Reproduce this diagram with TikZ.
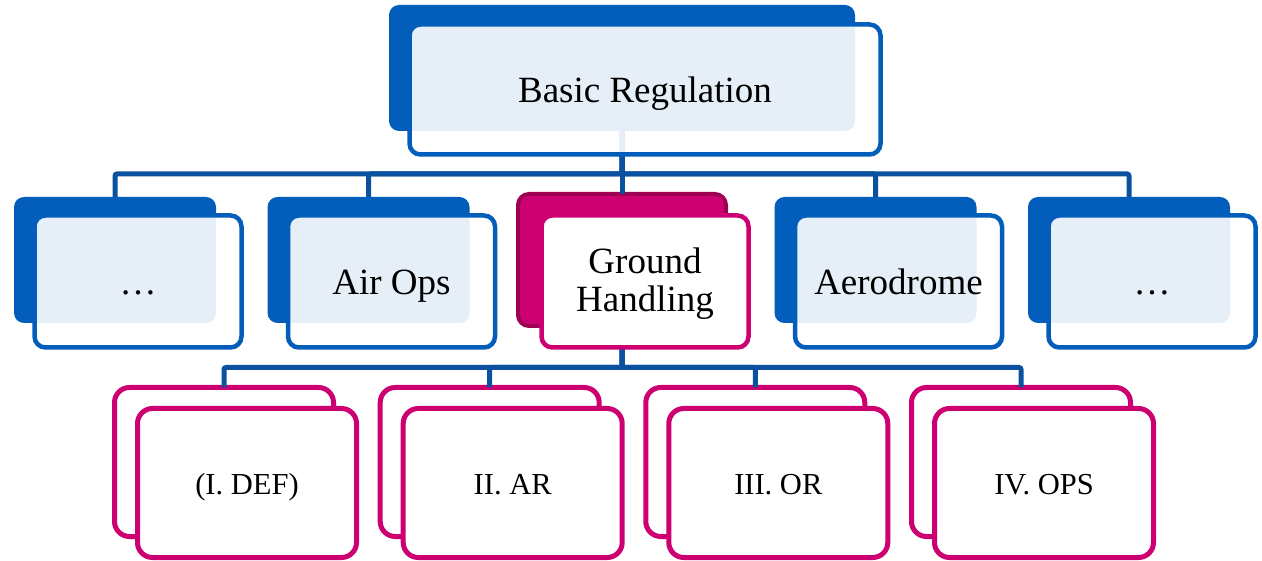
\documentclass[tikz,border=0pt]{standalone}
\usepackage{fontspec}
\setmainfont{Liberation Serif}
\definecolor{boxblue}{HTML}{035EBB}
\definecolor{linkblue}{HTML}{0A519F}
\definecolor{pinkc}{HTML}{CC0070}
\definecolor{pinkdark}{HTML}{9E0052}
\begin{document}
\begin{tikzpicture}[x=1pt,y=-1pt,
  every node/.style={inner sep=0pt, outer sep=0pt},
  link/.style={draw=linkblue, line width=5pt, rounded corners=2pt},
  topback/.style={rectangle, rounded corners=10pt, fill=boxblue, minimum width=466pt, minimum height=126pt},
  topfront/.style={rectangle, rounded corners=11pt, draw=boxblue, line width=4.5pt, fill=white, fill opacity=0.9, text opacity=1, draw opacity=1, minimum width=471pt, minimum height=130pt, font=\fontsize{37}{38}\selectfont, text height=29pt, text depth=3.6pt},
  midback/.style={rectangle, rounded corners=10pt, fill=boxblue, minimum width=202pt, minimum height=126pt},
  midfront/.style={rectangle, rounded corners=11pt, draw=boxblue, line width=4.5pt, fill=white, fill opacity=0.9, text opacity=1, draw opacity=1, minimum width=207pt, minimum height=132pt, font=\fontsize{37}{38}\selectfont, text height=29pt, text depth=3.6pt},
  ghback/.style={rectangle, rounded corners=11pt, fill=pinkc, draw=pinkdark, line width=4pt, minimum width=208pt, minimum height=132pt},
  ghfront/.style={rectangle, rounded corners=11pt, draw=pinkc, line width=4.5pt, fill=white, minimum width=207pt, minimum height=132pt, font=\fontsize{37}{38}\selectfont, align=center},
  lowback/.style={rectangle, rounded corners=15pt, draw=pinkc, line width=5pt, fill=white, minimum width=219pt, minimum height=149pt},
  lowfront/.style={rectangle, rounded corners=15pt, draw=pinkc, line width=5pt, fill=white, minimum width=219pt, minimum height=149pt, font=\fontsize{30.5}{32}\selectfont, text height=22pt, text depth=0pt}
]
\useasboundingbox (0,0) rectangle (1262,561);

% back boxes
\node[topback] (topb) at (622,68) {};
\node[midback] (m1b) at (115,260) {};
\node[midback] (m2b) at (368.5,260) {};
\node[ghback]  (m3b) at (622,260) {};
\node[midback] (m4b) at (875.5,260) {};
\node[midback] (m5b) at (1129,260) {};
\node[lowback] (l1b) at (224,462) {};
\node[lowback] (l2b) at (489.7,462) {};
\node[lowback] (l3b) at (755.3,462) {};
\node[lowback] (l4b) at (1021,462) {};

% connectors
\coordinate (j1) at (622,174);
\coordinate (j2) at (622,367.5);
\draw[link] (topb.south) -- (j1) -| (m1b.north);
\draw[link] (topb.south) -- (j1) -| (m2b.north);
\draw[link] (topb.south) -- (m3b.north);
\draw[link] (topb.south) -- (j1) -| (m4b.north);
\draw[link] (topb.south) -- (j1) -| (m5b.north);
\draw[link] (m3b.south) -- (j2) -| (l1b.north);
\draw[link] (m3b.south) -- (j2) -| (l2b.north);
\draw[link] (m3b.south) -- (j2) -| (l3b.north);
\draw[link] (m3b.south) -- (j2) -| (l4b.north);

% front boxes
\node[topfront] (topf) at (645,89.5) {Basic Regulation};
\node[midfront] (m1f) at (138,281.5) {…};
\node[midfront] (m2f) at (391.5,281.5) {Air Ops};
\node[ghfront]  (m3f) at (645,281.5) {\rule{0pt}{29pt}Ground\\Handling};
\node[midfront] (m4f) at (898.5,281.5) {Aerodrome};
\node[midfront] (m5f) at (1152,281.5) {…};
\node[lowfront] (l1f) at (247,483) {(I. DEF)};
\node[lowfront] (l2f) at (512.7,483) {II. AR};
\node[lowfront] (l3f) at (778.3,483) {III. OR};
\node[lowfront] (l4f) at (1044,483) {IV. OPS};
\end{tikzpicture}
\end{document}
